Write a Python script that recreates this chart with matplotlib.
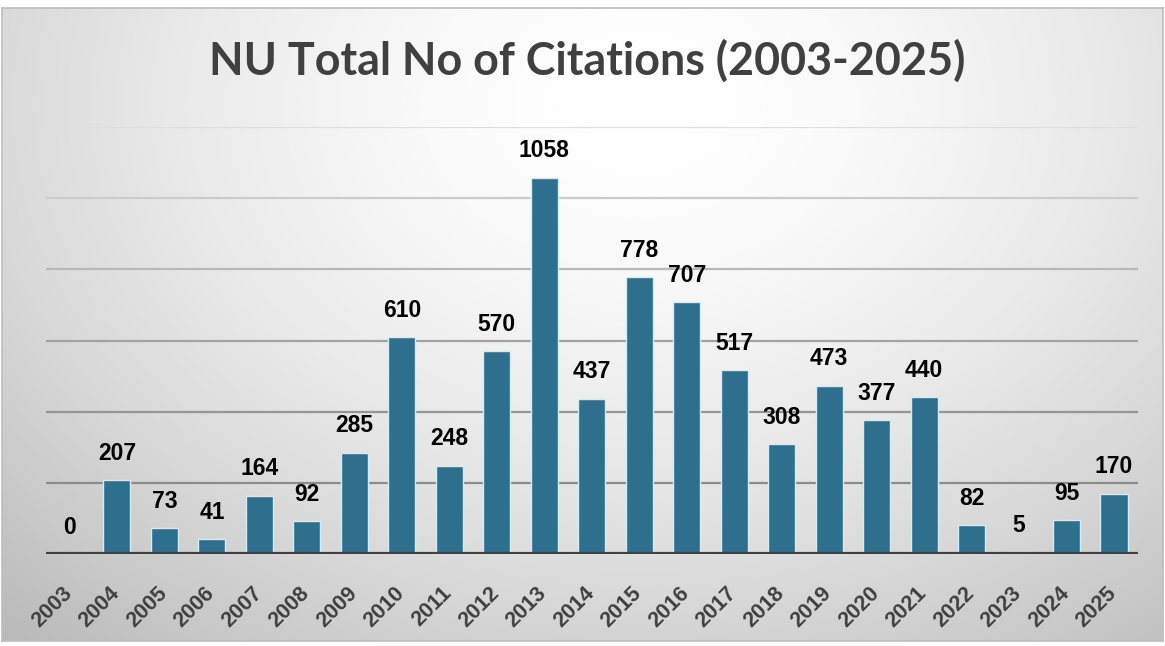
import numpy as np
import matplotlib.pyplot as plt
import matplotlib.transforms as mtransforms

# Data
years = [str(y) for y in range(2003, 2026)]
citations = [0, 207, 73, 41, 164, 92, 285, 610, 248, 570, 1058, 437,
             778, 707, 517, 308, 473, 377, 440, 82, 5, 95, 170]
grid_levels = [200, 400, 600, 800, 1000, 1200]

fig = plt.figure(figsize=(11.65, 6.46), dpi=100)
fig.patch.set_facecolor('white')

# -------------------------------
# Gradient background panel
# -------------------------------
bg = fig.add_axes([2 / 1165, 5 / 646, 1161 / 1165, 633 / 646])
gx, gy = np.meshgrid(np.linspace(0, 1, 400), np.linspace(0, 1, 240))
r = np.sqrt(((gx - 0.55) / 0.75) ** 2 + ((gy - 0.15) / 1.05) ** 2)
shade = 1.0 - 0.24 * np.clip(r, 0, 1.2) ** 1.6
bg.imshow(shade, cmap='gray', vmin=0, vmax=1, aspect='auto',
          extent=[0, 1, 1, 0], interpolation='bicubic')
bg.set_xlim(0, 1)
bg.set_ylim(1, 0)
bg.set_xticks([])
bg.set_yticks([])
for s in bg.spines.values():
    s.set_color('#bdbdbd')
    s.set_linewidth(1.2)
bg.set_zorder(0)

# -------------------------------
# Bar chart
# -------------------------------
ax = fig.add_axes([45.75 / 1165, 92 / 646, 1092 / 1165, 427 / 646])
ax.set_zorder(1)
ax.patch.set_alpha(0)

x = np.arange(len(years))
grid_cols = ['#8c8c8c', '#959595', '#a3a3a3', '#b8b8b8', '#cccccc', '#dedede']
for lvl, c in zip(grid_levels, grid_cols):
    ax.axhline(lvl, color=c, linewidth=1.6, zorder=1)

ax.bar(x, citations, width=0.57, color='#2e6f8e',
       edgecolor='#d4ecf7', linewidth=1.0, zorder=2)
ax.axhline(0, color='#404040', linewidth=3, zorder=3)

for xi, v in zip(x, citations):
    ax.annotate(str(v), (xi, v), xytext=(0, 11), textcoords='offset points',
                ha='center', va='bottom', fontsize=16.5, fontweight='bold',
                color='black', family='Liberation Sans')

ax.set_xlim(-0.5, len(years) - 0.5)
ax.set_ylim(0, 1200)
ax.set_yticks([])
ax.set_xticks(x)
ax.set_xticklabels(years, rotation=45, ha='right', rotation_mode='anchor',
                   fontsize=15.5, fontweight='bold', color='#404040',
                   family='Liberation Sans')
ax.tick_params(axis='x', length=0, pad=20)
shift = mtransforms.ScaledTranslation(-8 / 100, -1 / 100, fig.dpi_scale_trans)
for lbl in ax.get_xticklabels():
    lbl.set_transform(lbl.get_transform() + shift)
for s in ax.spines.values():
    s.set_visible(False)

fig.text(0.504, 0.905, 'NU Total No of Citations (2003-2025)',
         ha='center', va='center', fontsize=32.3, fontweight='bold',
         color='#404040', family='Lato')

fig.savefig('out.png', dpi=100)
